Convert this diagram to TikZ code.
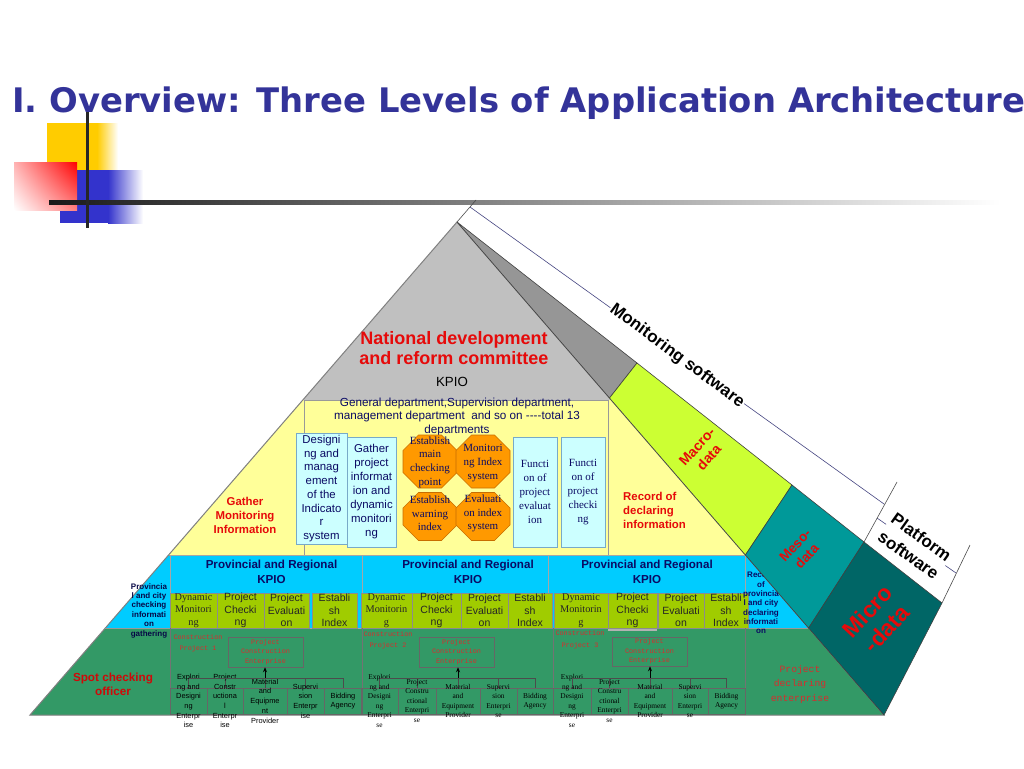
\documentclass[tikz,border=0pt]{standalone}
\usepackage{fontspec}
\setmainfont{Liberation Sans}
\newfontfamily\serf{Liberation Serif}
\newfontfamily\mono{Liberation Mono}
\newfontfamily\ttlf{DejaVu Sans}
\usetikzlibrary{arrows.meta,shadings}
\newcommand\fsz[2]{\fontsize{#1}{#2}\selectfont}
\definecolor{ttl}{RGB}{51,51,153}
\definecolor{lgY}{RGB}{255,204,0}
\definecolor{lgB}{RGB}{51,51,204}
\definecolor{lgray}{RGB}{192,192,192}
\definecolor{dgray}{RGB}{150,150,150}
\definecolor{yel}{RGB}{255,255,153}
\definecolor{cyn}{RGB}{0,204,255}
\definecolor{limebox}{RGB}{160,204,0}
\definecolor{grn}{RGB}{51,153,102}
\definecolor{lblue}{RGB}{204,255,255}
\definecolor{lbdraw}{RGB}{120,170,200}
\definecolor{orng}{RGB}{255,153,0}
\definecolor{octdraw}{RGB}{200,110,0}
\definecolor{macro}{RGB}{204,255,51}
\definecolor{meso}{RGB}{0,153,153}
\definecolor{micro}{RGB}{0,102,102}
\definecolor{rd}{RGB}{230,10,10}
\definecolor{monord}{RGB}{215,45,45}
\definecolor{nvy}{RGB}{10,10,100}
\definecolor{dimc}{RGB}{70,70,130}
\begin{document}
\begin{tikzpicture}[x=1pt,y=-1pt,
  txt/.style={inner sep=0,align=center},
  lbx/.style={draw=black!45,line width=0.5,fill=limebox,minimum height=35,inner sep=0},
  lbt/.style={txt,text=black!85,font=\fsz{10.5}{12.3}},
  lbs/.style={txt,text=black!85,font=\serf\fsz{10.3}{12.3}},
  tbx/.style={draw=black!60,line width=0.5,minimum height=26,inner sep=0},
  tbs/.style={txt,font=\fsz{7.4}{9.7}},
  tbr/.style={txt,font=\serf\fsz{7.4}{9.5}},
  pce/.style={draw=black!60,line width=0.5,minimum width=75,minimum height=30,inner sep=0},
  mon/.style={txt,text=monord,font=\mono\fsz{6.8}{9.3}},
  lbb/.style={draw=lbdraw,line width=0.5,fill=lblue,inner sep=0,minimum height=110},
  bluet/.style={txt,text=nvy,font=\fsz{11.4}{13.7}},
  octo/.style={draw=octdraw,fill=orng,line width=0.6},
  octt/.style={txt,text=nvy,font=\serf\fsz{11}{13.7}},
  redb/.style={txt,text=rd,font=\bfseries\fsz{11.4}{14}},
  prov/.style={txt,text=nvy,font=\bfseries\fsz{11.6}{15.5}},
  face/.style={draw=black!75,line width=0.6},
  dim/.style={draw=dimc,line width=0.6},
  tick/.style={draw=black!70,line width=0.6},
  arr/.style={-{Stealth[length=5pt,width=4pt]},line width=0.7}
]
\useasboundingbox (0,0) rectangle (1024,768);
\fill[white] (0,0) rectangle (1024,768);
% logo
\fill[lgY] (47,123) rectangle (97,170);
\shade[left color=lgY,right color=white] (97,123) rectangle (118,170);
\fill[lgB] (60,170) rectangle (108,223);
\shade[left color=lgB,right color=white] (108,170) rectangle (143,223);
\shade[upper right=red,upper left=red!30,lower right=red!50,lower left=white] (14,162) rectangle (77,210);
\shade[left color=black!90,right color=white] (49,200) rectangle (1000,204);
\fill[black!85] (85.5,111) rectangle (88.5,228);
\node[anchor=base west,inner sep=0,text=ttl,font=\ttlf\bfseries\fsz{33.8}{40}] (title) at (12,112) {I. Overview: Three Levels of Application Architecture};
% pyramid front
\coordinate (A) at (457,222);
\coordinate (BL) at (30,715);
\coordinate (BR) at (884,715);
\fill[lgray] (A) -- (BL) -- (BR) -- cycle;
\fill[yel] (302.8,400) -- (611.2,400) -- (745.4,555) -- (168.6,555) -- cycle;
\fill[cyn] (168.6,555) -- (745.4,555) -- (808.6,628) -- (105.4,628) -- cycle;
\fill[grn] (105.4,628) -- (808.6,628) -- (884,715) -- (30,715) -- cycle;
\draw[black!50,line width=1] (A) -- (BL) -- (BR) -- cycle;
\draw[black!40,line width=0.5] (168.6,555) -- (745.4,555);
\draw[black!40,line width=0.5] (105.4,628) -- (808.6,628);
% top
\node[txt,text=rd,font=\bfseries\fsz{18}{20.5}] (ndrc) at (454,348) {National development\\and reform committee};
\node[txt,font=\fsz{13.3}{15}] (kpio) at (452,382) {KPIO};
% yellow band
\node[draw=black!40,line width=0.5,minimum width=304,minimum height=155,inner sep=0] (ybox) at (456,477.5) {};
\node[txt,text=nvy,font=\fsz{11.7}{13.5}] (gendep) at (457,416.5) {General department,Supervision department,\\management department\ \ and so on -{}-{}-{}-total 13\\departments};
\node[lbb,minimum width=51,minimum height=111] (bA) at (321.5,488.5) {};
\node[bluet] (tA) at (bA) {Designi\\ng and\\manag\\ement\\of the\\Indicato\\r\\system};
\node[lbb,minimum width=49] (bB) at (371.5,492) {};
\node[bluet,font=\fsz{11.4}{14}] (tB) at (bB) {Gather\\project\\informat\\ion and\\dynamic\\monitori\\ng};
\node[lbb,minimum width=44] (bC) at (535,492) {};
\node[bluet,font=\serf\fsz{11}{14.2}] (tC) at (bC) {Functi\\on of\\project\\evaluat\\ion};
\node[lbb,minimum width=44] (bD) at (583,492) {};
\node[bluet,font=\serf\fsz{11}{14.2}] (tD) at (bD) {Functi\\on of\\project\\checki\\ng};
\foreach \cx/\cy/\h in {430/461.5/26.5, 483/461.5/26.5, 430/516.5/24, 483/516.5/24}
  \draw[octo,shift={(\cx,\cy)}] (-27,{-\h+15.5}) -- (-11.5,-\h) -- (11.5,-\h) -- (27,{-\h+15.5}) -- (27,{\h-15.5}) -- (11.5,\h) -- (-11.5,\h) -- (-27,{\h-15.5}) -- cycle;
\node[octt] (ot1) at (430,462) {Establish\\main\\checking\\point};
\node[octt] (ot2) at (483,463) {Monitori\\ng Index\\system};
\node[octt] (ot3) at (430,513.5) {Establish\\warning\\index};
\node[octt] (ot4) at (483,513.5) {Evaluati\\on index\\system};
\node[redb] (gmi) at (245,515) {Gather\\Monitoring\\Information};
\node[redb,anchor=west,align=left] (rdi) at (623,510) {Record of\\declaring\\information};
% cyan band
\foreach \cx/\w/\nm in {266/192/p1, 455/186/p2, 646.5/197/p3}
  \node[draw=black!35,line width=0.5,minimum width=\w,minimum height=73,inner sep=0] (\nm) at (\cx,591.5) {};
\node[prov] (pk1) at (271.5,572) {Provincial and Regional\\KPIO};
\node[prov] (pk2) at (468,572) {Provincial and Regional\\KPIO};
\node[prov] (pk3) at (647,572) {Provincial and Regional\\KPIO};
\fill[black!30] (608,627) rectangle (657,630.5);
\foreach \cx/\w/\nm/\t in {193.5/47/a1/{Dynamic\\Monitori\\ng}, 386.5/51/b1/{Dynamic\\Monitorin\\g}, 581/54/c1/{Dynamic\\Monitorin\\g}}{
  \node[lbx,minimum width=\w] (\nm) at (\cx,610.5) {};
  \node[lbs] (\nm t) at (\nm) {\t};}
\foreach \cx/\w/\nm/\t in {240.5/47/a2/{Project\\Checki\\ng}, 286.5/45/a3/{Project\\Evaluati\\on}, 334.5/45/a4/{Establi\\sh\\Index},
  436.5/49/b2/{Project\\Checki\\ng}, 484.5/47/b3/{Project\\Evaluati\\on}, 530/44/b4/{Establi\\sh\\Index},
  632.5/49/c2/{Project\\Checki\\ng}, 681/46/c3/{Project\\Evaluati\\on}, 726/44/c4/{Establi\\sh\\Index}}{
  \node[lbx,minimum width=\w] (\nm) at (\cx,610.5) {};
  \node[lbt] (\nm t) at (\nm) {\t};}
\node[txt,text=nvy!70!black,font=\bfseries\fsz{8}{9.4}] (lct) at (149,610.5) {Provincia\\l and city\\checking\\informati\\on\\gathering};
\node[txt,text=nvy,font=\bfseries\fsz{8}{9.3}] (rct) at (761,603) {Record\\of\\provincia\\l and city\\declaring\\informati\\on};
% green band
\foreach \x in {170,362,553,745}
  \draw[black!55,line width=0.6] (\x,628) -- (\x,715);
\node[txt,text=rd!90!black,font=\bfseries\fsz{11.7}{14}] (spot) at (113,684) {Spot checking\\officer};
\node[txt,text=monord,font=\mono\fsz{9.7}{14.5}] (pde) at (800,684) {Project\\declaring\\enterprise};
\node[mon,font=\mono\fsz{6.8}{11}] (cp1) at (198,643.5) {Construction\\Project 1};
\node[mon,font=\mono\fsz{6.8}{10.5}] (cp2) at (388,640) {Construction\\Project 2};
\node[mon,font=\mono\fsz{6.8}{12}] (cp3) at (580,639.5) {Construction\\Project 3};
\node[pce] (pce1) at (265.5,652) {};
\node[mon] (pcet1) at (pce1) {Project\\Construction\\Enterprise};
\node[pce] (pce2) at (456.5,652) {};
\node[mon] (pcet2) at (pce2) {Project\\Construction\\Enterprise};
\node[pce,minimum height=29] (pce3) at (649.5,651.5) {};
\node[mon] (pcet3) at (pce3) {Project\\Construction\\Enterprise};
% tree boxes column 1 (sans)
\foreach \cx/\w/\nm/\t in {188.5/37/d1/{Explori\\ng and\\Designi\\ng\\Enterpr\\ise}, 225/36/d2/{Project\\Constr\\uctiona\\l\\Enterpr\\ise},
  265/44/d3/{Material\\and\\Equipme\\nt\\Provider}, 305.5/37/d4/{Supervi\\sion\\Enterpr\\ise}, 343/38/d5/{Bidding\\Agency}}{
  \node[tbx,minimum width=\w] (\nm) at (\cx,701) {};
  \draw[black!70,line width=0.5] (\nm.north) -- ([yshift=10pt]\nm.north);
  \node[tbs] (\nm t) at (\nm) {\t};}
\foreach \cx/\w/\nm in {379.5/37/e1, 417/38/e2, 458/44/e3, 498.5/37/e4, 535/36/e5,
  572/38/f1, 609.5/37/f2, 650/44/f3, 690/36/f4, 726.5/37/f5}{
  \node[tbx,minimum width=\w] (\nm) at (\cx,701) {};
  \draw[black!70,line width=0.5] (\nm.north) -- ([yshift=10pt]\nm.north);}
\foreach \c in {e,f}{
  \node[tbr] (\c1t) at (\c1) {Explori\\ng and\\Designi\\ng\\Enterpri\\se};
  \node[tbr] (\c2t) at (\c2) {Project\\Constru\\ctional\\Enterpri\\se};
  \node[tbr] (\c3t) at (\c3) {Material\\and\\Equipment\\Provider};
  \node[tbr] (\c4t) at (\c4) {Supervi\\sion\\Enterpri\\se};
  \node[tbr] (\c5t) at (\c5) {Bidding\\Agency};}
\foreach \c/\p in {d/pce1,e/pce2,f/pce3}{
  \draw[black!70,line width=0.5] ([yshift=10pt]\c1.north) -- ([yshift=10pt]\c5.north);
  \draw[arr] ([yshift=10pt]\c3.north) -- (\c3.north |- \p.south);}
% side face
\coordinate (G1) at (609.5,398);
\coordinate (G2) at (637,363);
\coordinate (L1) at (745.4,555);
\coordinate (L2) at (792,485);
\coordinate (T1) at (808.6,628);
\coordinate (T2) at (864,542);
\coordinate (B2) at (942,603);
\filldraw[face,fill=dgray] (A) -- (G1) -- (G2) -- cycle;
\filldraw[face,fill=macro] (G1) -- (L1) -- (L2) -- (G2) -- cycle;
\filldraw[face,fill=meso] (L1) -- (T1) -- (T2) -- (L2) -- cycle;
\filldraw[face,fill=micro] (T1) -- (BR) -- (B2) -- (T2) -- cycle;
\node[txt,rotate=48,text=rd,font=\bfseries\fsz{14}{16}] (macrot) at (703,452) {Macro-\\data};
\node[txt,rotate=47,text=rd,font=\bfseries\fsz{13.5}{16}] (mesot) at (801,551) {Meso-\\data};
\node[txt,rotate=47,text=rd,font=\bfseries\fsz{23}{26}] (microt) at (877,620) {Micro\\-data};
% dimension lines
\coordinate (m1) at (470,207);
\coordinate (m2) at (884,504);
\coordinate (k1) at (877,518);
\coordinate (k2) at (956,573);
\coordinate (t0) at (476,200);
\coordinate (t1) at (897,482);
\coordinate (t2) at (970,545);
\draw[dim] (m1) -- (m2);
\draw[dim] (k1) -- (k2);
\draw[tick] (A) -- (t0);
\draw[tick] (T2) -- (t1);
\draw[tick] (B2) -- (t2);
\node[txt,rotate=-36.5,fill=white,inner sep=1,font=\bfseries\fsz{17}{20}] (monsw) at (677,356) {Monitoring software};
\node[txt,rotate=-35.5,fill=white,inner sep=1,font=\bfseries\fsz{17}{22}] (platsw) at (915,546) {Platform\\software};
\end{tikzpicture}
\end{document}
